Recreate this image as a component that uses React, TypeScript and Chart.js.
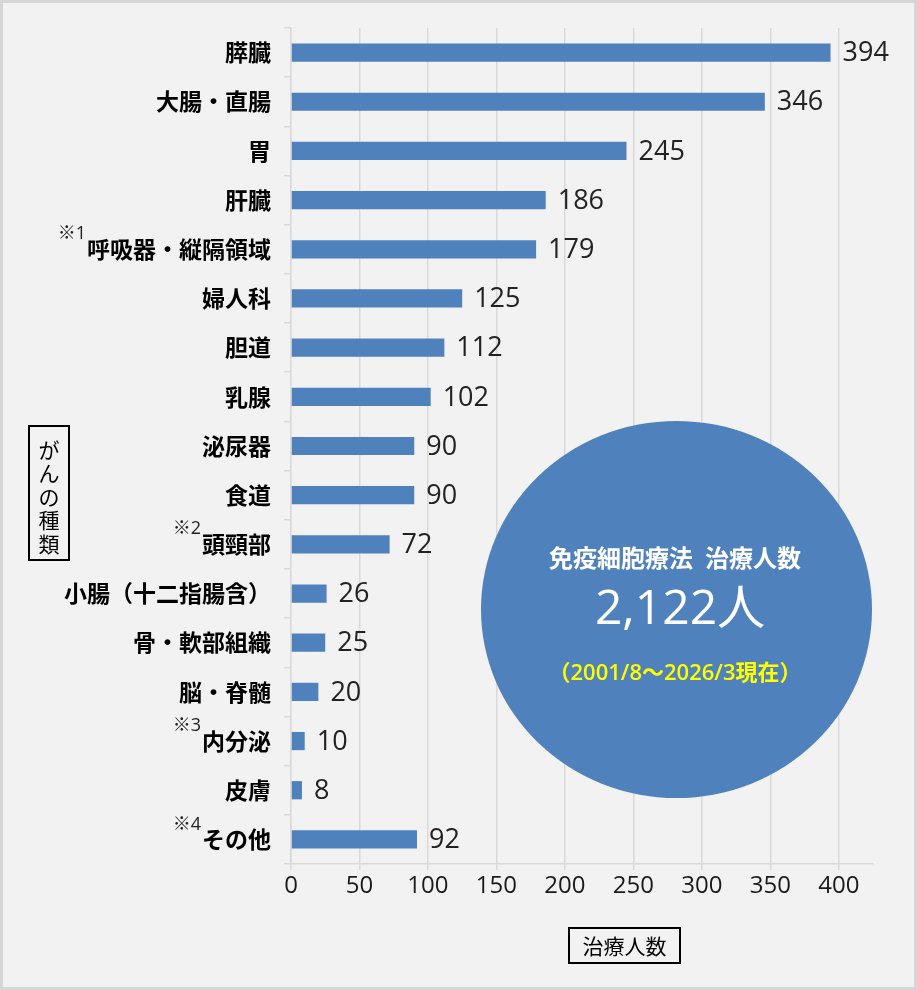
import { useEffect, useRef } from "react"
import { Chart, registerables } from "chart.js"

Chart.register(...registerables)

const categories = [
  "膵臓",
  "大腸・直腸",
  "胃",
  "肝臓",
  "呼吸器・縦隔領域",
  "婦人科",
  "胆道",
  "乳腺",
  "泌尿器",
  "食道",
  "頭頸部",
  "小腸（十二指腸含）",
  "骨・軟部組織",
  "脳・脊髄",
  "内分泌",
  "皮膚",
  "その他",
]
const values = [394, 346, 245, 186, 179, 125, 112, 102, 90, 90, 72, 26, 25, 20, 10, 8, 92]
const notes = ["", "", "", "", "※1", "", "", "", "", "", "※2", "", "", "", "※3", "", "※4"]
const xTickValues = [0, 50, 100, 150, 200, 250, 300, 350, 400]
const xMax = 425

const yTitle = ["が", "ん", "の", "種", "類"]
const xTitle = "治療人数"
const totalTitle = "免疫細胞療法\u2002治療人数"
const totalValue = "2,122人"
const totalPeriod = "（2001/8～2026/3現在）"

const FONT = '"Noto Sans CJK JP", "Noto Sans", sans-serif'
const NUM_FONT = '"Open Sans", "Noto Sans CJK JP", sans-serif'
const BLUE = "#4f81bd"
const GRID = "#d9d9d9"

// background + outer frame
const framePlugin = {
  id: "frame",
  beforeDraw(chart: Chart) {
    const { ctx, width, height } = chart
    ctx.save()
    ctx.fillStyle = "#f2f2f2"
    ctx.fillRect(0, 0, width, height)
    ctx.strokeStyle = "#d6d6d6"
    ctx.lineWidth = 3
    ctx.strokeRect(1.5, 1.5, width - 3, height - 3)
    ctx.restore()
  },
}

// numbers at the end of each bar
const valueLabelPlugin = {
  id: "valueLabels",
  afterDatasetsDraw(chart: Chart) {
    const { ctx } = chart
    const meta = chart.getDatasetMeta(0)
    ctx.save()
    ctx.font = `27px ${NUM_FONT}`
    ctx.fillStyle = "#222"
    ctx.textAlign = "left"
    ctx.textBaseline = "middle"
    meta.data.forEach((bar: any, i: number) => {
      ctx.fillText(String(values[i]), bar.x + 12, bar.y + 1)
    })
    ctx.restore()
  },
}

// footnote marks, axis title boxes and the total circle
const overlayPlugin = {
  id: "overlay",
  afterDraw(chart: Chart) {
    const { ctx, chartArea } = chart
    const yScale = chart.scales.y
    ctx.save()

    // ※ marks in front of some category labels
    notes.forEach((mark, i) => {
      if (!mark) return
      ctx.font = `bold 23px ${FONT}`
      const w = ctx.measureText(categories[i]).width
      const left = chartArea.left - 20 - w
      const y = yScale.getPixelForValue(i)
      ctx.font = `18px ${NUM_FONT}`
      ctx.fillStyle = "#222"
      ctx.textAlign = "right"
      ctx.textBaseline = "middle"
      ctx.fillText(mark, left - 1, y - 15)
    })

    // vertical y title
    ctx.strokeStyle = "#000"
    ctx.lineWidth = 2
    ctx.strokeRect(29, 426, 40, 134)
    ctx.font = `21px ${FONT}`
    ctx.fillStyle = "#000"
    ctx.textAlign = "center"
    ctx.textBaseline = "middle"
    yTitle.forEach((ch, i) => ctx.fillText(ch, 49, 450 + i * 23.5))

    // x title
    ctx.strokeRect(569, 928, 111, 35)
    ctx.fillText(xTitle, 624.5, 946)

    // total circle
    ctx.fillStyle = BLUE
    ctx.beginPath()
    ctx.ellipse(676.5, 609.5, 195.5, 188.5, 0, 0, Math.PI * 2)
    ctx.fill()
    ctx.fillStyle = "#fff"
    ctx.font = `bold 24px ${FONT}`
    ctx.fillText(totalTitle, 675, 558)
    ctx.font = `48px ${NUM_FONT}`
    ctx.fillText(totalValue, 680, 610)
    ctx.fillStyle = "#ffff00"
    ctx.font = `600 22px ${NUM_FONT}`
    ctx.fillText(totalPeriod, 675, 674)

    ctx.restore()
  },
}

export default function App() {
  const chartRef = useRef<HTMLCanvasElement>(null)
  const chartInstance = useRef<Chart | null>(null)

  useEffect(() => {
    if (!chartRef.current) return
    if (chartInstance.current) chartInstance.current.destroy()

    const ctx = chartRef.current.getContext("2d")
    if (!ctx) return

    chartInstance.current = new Chart(ctx, {
      type: "bar",
      data: {
        labels: categories,
        datasets: [
          {
            data: values,
            backgroundColor: BLUE,
            barPercentage: 0.37,
            categoryPercentage: 1,
          },
        ],
      },
      options: {
        indexAxis: "y",
        responsive: true,
        maintainAspectRatio: false,
        animation: false,
        layout: { padding: { top: 28, right: 44, left: 0, bottom: 0 } },
        plugins: {
          legend: { display: false },
          tooltip: { enabled: false },
        },
        scales: {
          x: {
            type: "linear",
            min: 0,
            max: xMax,
            afterBuildTicks: (scale: any) => {
              scale.ticks = xTickValues.map((v) => ({ value: v }))
            },
            afterFit: (scale: any) => {
              scale.height = 126
            },
            grid: { color: GRID, lineWidth: 1.5, tickLength: 6 },
            border: { color: GRID, width: 1.5 },
            ticks: {
              font: { family: NUM_FONT, size: 24 },
              color: "#1a1a1a",
              padding: 2,
              autoSkip: false,
              maxRotation: 0,
            },
          },
          y: {
            afterFit: (scale: any) => {
              scale.width = 291
            },
            grid: { drawOnChartArea: false, tickLength: 7, color: GRID, lineWidth: 1.5, offset: true },
            border: { color: GRID, width: 1.5 },
            ticks: {
              font: { family: FONT, size: 23, weight: "bold" },
              color: "#000",
              padding: 13,
              autoSkip: false,
            },
          },
        },
      },
      plugins: [framePlugin, valueLabelPlugin, overlayPlugin],
    })

    return () => {
      if (chartInstance.current) {
        chartInstance.current.destroy()
        chartInstance.current = null
      }
    }
  }, [])

  return (
    <div style={{ position: "absolute", left: 0, top: 0, width: 917, height: 990 }}>
      <canvas ref={chartRef} />
    </div>
  )
}
